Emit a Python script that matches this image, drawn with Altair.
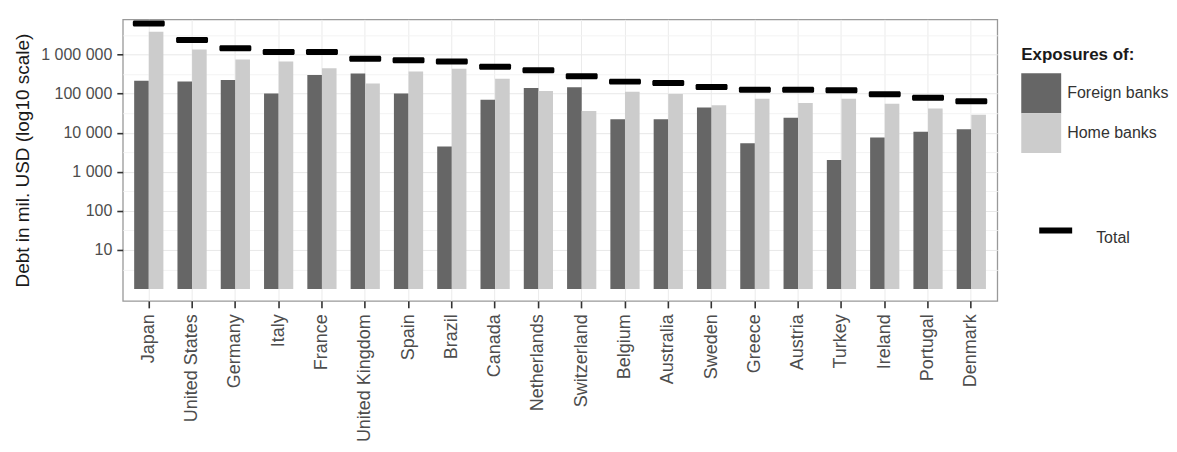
import altair as alt
import pandas as pd

countries = ["Japan", "United States", "Germany", "Italy", "France", "United Kingdom",
             "Spain", "Brazil", "Canada", "Netherlands", "Switzerland", "Belgium",
             "Australia", "Sweden", "Greece", "Austria", "Turkey", "Ireland",
             "Portugal", "Denmark"]
foreign_banks = [214000, 204000, 223000, 100000, 300000, 325000, 100000, 4400, 69800,
                 139000, 144000, 22000, 22000, 44000, 5400, 24000, 2000, 7500, 10500, 12300]
home_banks = [3800000, 1340000, 744000, 660000, 444000, 180000, 366000, 428000, 241000,
              117000, 35800, 112000, 98000, 50000, 74000, 57000, 74000, 55000, 41700, 28800]
total = [6200000, 2330000, 1450000, 1150000, 1150000, 775000, 714000, 661000, 483000,
         395000, 277000, 202000, 187000, 148000, 126000, 126000, 121000, 96000, 78000, 64000]
groups = ["Foreign banks", "Home banks"]
y_major = [10, 100, 1000, 10000, 100000, 1000000]
y_minor = [3.1623, 31.623, 316.23, 3162.3, 31623, 316228, 3162278]

bars = pd.DataFrame({
    "country": countries * 2,
    "group": [groups[0]] * len(countries) + [groups[1]] * len(countries),
    "value": foreign_banks + home_banks,
})
tot = pd.DataFrame({"country": countries, "value": total, "series": ["Total"] * len(countries)})

FONT = "Liberation Sans"
is_major = "abs(log(datum.value)/LN10 - round(log(datum.value)/LN10)) < 0.01"

yscale = alt.Scale(type="log", domain=[0.5, 7.9e6], nice=False)
xscale = alt.Scale(paddingInner=0.325, paddingOuter=0.2625)

x_axis = alt.Axis(title=None, labelAngle=-90, labelFontSize=18, labelColor="#4d4d4d",
                  labelFont=FONT, tickColor="#333333", tickWidth=1.6, tickSize=7,
                  labelPadding=6, domain=False, grid=True, gridColor="#ebebeb",
                  bandPosition=0.5)
y_axis = alt.Axis(title="Debt in mil. USD (log10 scale)", values=y_major + y_minor,
                  labelExpr=is_major + " ? join(split(format(datum.value, ','), ','), ' ') : ''",
                  labelFontSize=16, labelColor="#4d4d4d", labelFont=FONT,
                  titleFont=FONT, titleFontSize=19, titleFontWeight="normal",
                  titleColor="#1a1a1a", titlePadding=8,
                  tickColor="#333333", tickWidth=1.6, tickSize=6, labelPadding=5,
                  tickOpacity={"condition": {"test": is_major, "value": 1}, "value": 0},
                  gridColor={"condition": {"test": is_major, "value": "#e8e8e8"}, "value": "#f3f3f3"},
                  domain=False)

bar_layer = alt.Chart(bars).mark_bar().encode(
    x=alt.X("country:N", sort=countries, scale=xscale, axis=x_axis),
    xOffset=alt.XOffset("group:N", sort=groups, scale=alt.Scale(paddingInner=0, paddingOuter=0)),
    y=alt.Y("value:Q", scale=yscale, axis=y_axis),
    y2=alt.datum(1),
    color=alt.Color("group:N", sort=groups,
                    scale=alt.Scale(domain=groups, range=["#666666", "#cccccc"]),
                    legend=alt.Legend(title="Exposures of:", orient="none", legendX=900, legendY=28,
                                      titleFont=FONT, titleFontSize=17, titleFontWeight="bold",
                                      titleColor="#1a1a1a", titlePadding=9,
                                      labelFont=FONT, labelFontSize=16, labelColor="#333333",
                                      labelOffset=6, symbolType="square", symbolSize=1600,
                                      symbolStrokeWidth=0, symbolOpacity=1, rowPadding=0,
                                      padding=0, symbolOffset=0)),
)

tick_layer = alt.Chart(tot).mark_tick(thickness=6, size=32, cornerRadius=1.5, opacity=1).encode(
    x=alt.X("country:N", sort=countries, scale=xscale, axis=x_axis),
    y=alt.Y("value:Q", scale=yscale, axis=y_axis),
    color=alt.Color("series:N",
                    scale=alt.Scale(domain=["Total"], range=["#000000"]),
                    legend=alt.Legend(title=None, orient="none", legendX=918, legendY=203,
                                      labelFont=FONT, labelFontSize=16, labelColor="#333333",
                                      labelOffset=24, symbolType="M-1,-0.66H1V-0.3H-1Z",
                                      symbolSize=1089, symbolStrokeWidth=0, symbolFillColor="#000000",
                                      symbolOpacity=1, padding=0, symbolOffset=0)),
)

chart = alt.layer(bar_layer, tick_layer).resolve_scale(color="independent").properties(
    width=876, height=282,
    padding={"left": 5, "top": 11, "right": 0, "bottom": 0},
    background="white",
).configure_view(stroke="#999999", strokeWidth=1.3)

chart.save("out.html", embed_options={"renderer": "svg", "actions": False})
